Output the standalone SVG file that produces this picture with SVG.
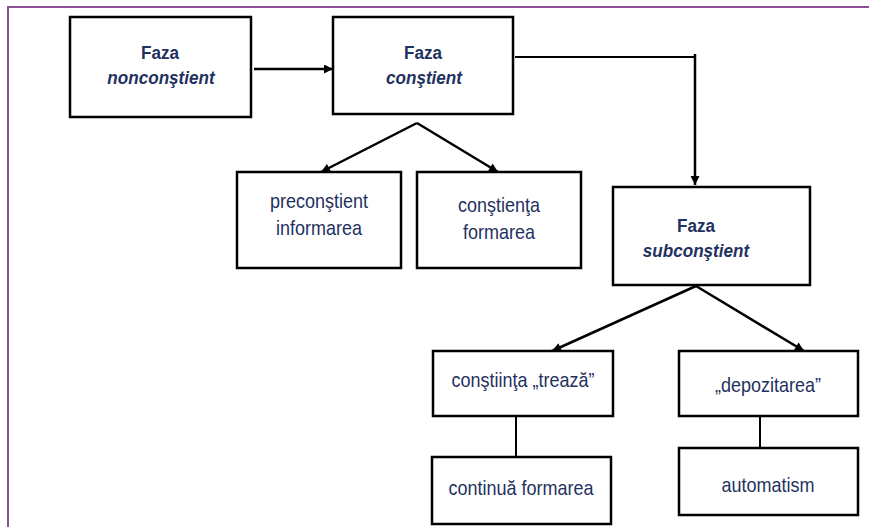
<svg xmlns="http://www.w3.org/2000/svg" width="869" height="527" viewBox="0 0 869 527">
<defs>
<marker id="ah" viewBox="0 0 10 10" refX="10" refY="5" markerWidth="11" markerHeight="9" markerUnits="userSpaceOnUse" orient="auto">
<path d="M0,0 L10,5 L0,10 z" fill="#000"/>
</marker>
<style>
.box{fill:#fff;stroke:#000;stroke-width:2.5}
.t{font-family:"Liberation Sans",Arial,sans-serif;font-size:20px;fill:#1f3160;text-anchor:middle}
.b{font-weight:bold;font-size:19px}
.i{font-style:italic;font-weight:bold;font-size:19px}
.c{fill:none;stroke:#000;stroke-width:2.5}
.c2{fill:none;stroke:#000;stroke-width:2}
</style>
</defs>
<rect width="869" height="527" fill="#fff"/>
<path d="M8,527 V7 H869" fill="none" stroke="#8c4f96" stroke-width="2"/>
<g id="connectors">
<line class="c" x1="254" y1="69" x2="333" y2="69" marker-end="url(#ah)"/>
<path class="c2" d="M515,57 H695"/>
<line class="c" x1="695" y1="54" x2="695" y2="185" marker-end="url(#ah)"/>
<line class="c" x1="417" y1="123" x2="321" y2="172" marker-end="url(#ah)"/>
<line class="c" x1="417" y1="123" x2="498" y2="172" marker-end="url(#ah)"/>
<line class="c" x1="696" y1="286" x2="552" y2="351" marker-end="url(#ah)"/>
<line class="c" x1="696" y1="286" x2="804" y2="351" marker-end="url(#ah)"/>
<line class="c2" x1="516" y1="416" x2="516" y2="457"/>
<line class="c2" x1="760" y1="416" x2="760" y2="448"/>
</g>
<g id="n1"><rect class="box" x="70" y="17" width="181" height="100"/>
<text class="t b" transform="translate(160,59) scale(0.9,1)">Faza</text><text class="t i" transform="translate(161,84) scale(0.9,1)">nonconştient</text></g>
<g id="n2"><rect class="box" x="333" y="17" width="180" height="97"/>
<text class="t b" transform="translate(423,59) scale(0.9,1)">Faza</text><text class="t i" transform="translate(424,84) scale(0.9,1)">conştient</text></g>
<g id="n3"><rect class="box" x="237" y="172" width="164" height="96"/>
<text class="t" transform="translate(319,208) scale(0.9,1)">preconştient</text><text class="t" transform="translate(319,235) scale(0.9,1)">informarea</text></g>
<g id="n4"><rect class="box" x="417" y="172" width="164" height="96"/>
<text class="t" transform="translate(499,212) scale(0.9,1)">conştienţa</text><text class="t" transform="translate(499,239) scale(0.9,1)">formarea</text></g>
<g id="n5"><rect class="box" x="613" y="187" width="197" height="98"/>
<text class="t b" transform="translate(696,232) scale(0.9,1)">Faza</text><text class="t i" transform="translate(696,257) scale(0.9,1)">subconştient</text></g>
<g id="n6"><rect class="box" x="433" y="351" width="180" height="65"/>
<text class="t" transform="translate(523,387) scale(0.9,1)">conştiinţa „trează”</text></g>
<g id="n7"><rect class="box" x="679" y="351" width="179" height="65"/>
<text class="t" transform="translate(768,392) scale(0.9,1)">„depozitarea”</text></g>
<g id="n8"><rect class="box" x="432" y="457" width="179" height="67"/>
<text class="t" transform="translate(521,495) scale(0.9,1)">continuă formarea</text></g>
<g id="n9"><rect class="box" x="679" y="448" width="179" height="67"/>
<text class="t" transform="translate(768,492) scale(0.9,1)">automatism</text></g>
</svg>
